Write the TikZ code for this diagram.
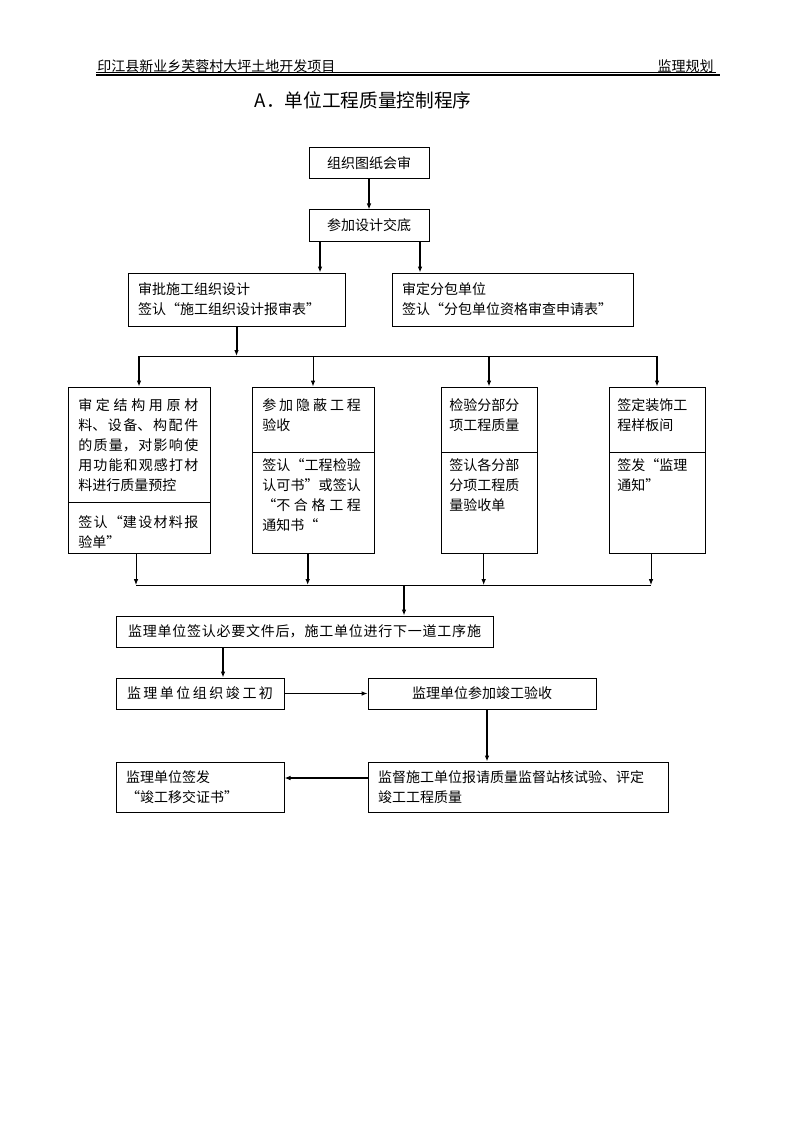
\documentclass[tikz,border=0pt]{standalone}
\usepackage{fontspec}
\setmainfont{Noto Sans CJK SC}
\newfontfamily\boxfont{Noto Sans CJK SC}[RawFeature=+fwid]
\XeTeXlinebreaklocale "zh"
\XeTeXlinebreakskip=0pt plus 5pt
\tolerance=10000
\usetikzlibrary{arrows.meta}

\tikzset{
  head/.style={inner sep=0pt, font=\fontsize{10.5}{12}\selectfont},
  box/.style={draw, line width=0.75pt, inner sep=0pt, font=\boxfont\fontsize{10.5}{15}\selectfont},
  txt/.style={inner sep=0pt, anchor=north west, font=\boxfont\fontsize{10.5}{15}\selectfont},
  link/.style={line width=0.75pt, -{Latex[length=4.5pt,width=3.5pt]}},
  boldlink/.style={line width=1.5pt, -{Latex[length=4.5pt,width=3.5pt]}},
  bus/.style={line width=0.75pt}
}

\begin{document}
\begin{tikzpicture}[x=0.75pt, y=-0.75pt]
    \useasboundingbox (0,0) rectangle (794,1123);

    % page header
    \node[head, anchor=west] (project) at (97,66) {印江县新业乡芙蓉村大坪土地开发项目};
    \node[head, anchor=east] (plan) at (714,66) {监理规划};
    \draw[line width=0.6pt] (96,72.5) -- (716,72.5);
    \draw[line width=1.5pt] (96,75.5) -- (720,75.5);
    \node[inner sep=0pt, font=\fontsize{14}{16}\selectfont] (title) at (363,100) {A．单位工程质量控制程序};

    % preparation stage
    \node[box, minimum width=90pt, minimum height=23.25pt] (meet) at (369,163.5) {组织图纸会审};
    \node[box, minimum width=90pt, minimum height=23.25pt] (brief) at (369,225.5) {参加设计交底};
    \node[box, align=left, text width=147.75pt, inner xsep=7.5pt, minimum height=39.75pt] (orgdesign) at (236.5,299.5) {审批施工组织设计\\签认“施工组织设计报审表”};
    \node[box, align=left, text width=165.75pt, inner xsep=7.5pt, minimum height=39.75pt] (subcon) at (512.5,299.5) {审定分包单位\\签认“分包单位资格审查申请表”};

    % the four checks
    \node[box, minimum width=106.5pt, minimum height=86.25pt] (mat) at (139,444.5) {};
    \node[box, minimum width=106.5pt, minimum height=38.25pt] (matsign) at (139,527.5) {};
    \node[box, minimum width=91.5pt, minimum height=48.75pt] (hidden) at (313,419.5) {};
    \node[box, minimum width=91.5pt, minimum height=75.75pt] (hiddensign) at (313,502.5) {};
    \node[box, minimum width=72pt, minimum height=48.75pt] (part) at (489,419.5) {};
    \node[box, minimum width=72pt, minimum height=75.75pt] (partsign) at (489,502.5) {};
    \node[box, minimum width=72pt, minimum height=48.75pt] (deco) at (657,419.5) {};
    \node[box, minimum width=72pt, minimum height=75.75pt] (decosign) at (657,502.5) {};

    \node[txt, text width=90pt, align=justify] (mattext) at (78,398) {审定结构用原材\linebreak 料、设备、构配件\linebreak 的质量，对影响使\linebreak 用功能和观感打材\linebreak 料进行质量预控};
    \node[txt, text width=90pt, align=justify] (matsigntext) at (78,515) {签认“建设材料报\linebreak 验单”};
    \node[txt, text width=74pt, align=justify] (hiddentext) at (262,398) {参加隐蔽工程\linebreak 验收};
    \node[txt, text width=74pt, align=justify] (hiddensigntext) at (262,458) {签认“工程检验\linebreak 认可书”或签认\linebreak “不合格工程\linebreak 通知书“};
    \node[txt, text width=53pt, align=left] (parttext) at (449,398) {检验分部分\\项工程质量};
    \node[txt, text width=53pt, align=left] (partsigntext) at (449,458) {签认各分部\\分项工程质\\量验收单};
    \node[txt, text width=53pt, align=left] (decotext) at (617,398) {签定装饰工\\程样板间};
    \node[txt, text width=53pt, align=left] (decosigntext) at (617,458) {签发“监理\\通知”};

    % completion stage
    \node[box, align=justify, text width=264.75pt, inner xsep=9pt, minimum height=23.25pt] (next) at (304.5,631.5) {\parfillskip=0pt 监理单位签认必要文件后，施工单位进行下一道工序施\par};
    \node[box, align=justify, text width=109.5pt, inner xsep=8.25pt, minimum height=23.25pt] (precheck) at (200,693.5) {\parfillskip=0pt 监理单位组织竣工初\par};
    \node[box, minimum width=171pt, minimum height=23.25pt] (accept) at (482,693.5) {监理单位参加竣工验收};
    \node[box, align=left, text width=210pt, inner xsep=7.5pt, minimum height=37.5pt] (evaluate) at (518,787) {监督施工单位报请质量监督站核试验、评定\\竣工工程质量};
    \node[box, align=left, text width=111pt, inner xsep=7.5pt, minimum height=37.5pt] (handover) at (200,787) {监理单位签发\\“竣工移交证书”};

    % connectors
    \coordinate (lt) at (320,0);
    \coordinate (rt) at (420,0);
    \coordinate (topbus) at (0,356);
    \coordinate (botbus) at (0,585);
    \coordinate (midbus) at (404,585);
    \coordinate (downf) at (223,0);
    \coordinate (downh) at (487,0);
    \coordinate (lefti) at (0,778);

    \draw[boldlink] (meet) -- (brief);
    \draw[boldlink] (brief.south -| lt) -- (orgdesign.north -| lt);
    \draw[boldlink] (brief.south -| rt) -- (subcon.north -| rt);
    \draw[boldlink] (orgdesign.south) -- (orgdesign.south |- topbus);
    \draw[bus] (mat.north |- topbus) -- (deco.north |- topbus);
    \draw[boldlink] (mat.north |- topbus) -- (mat.north);
    \draw[link] (hidden.north |- topbus) -- (hidden.north);
    \draw[boldlink] (part.north |- topbus) -- (part.north);
    \draw[boldlink] (deco.north |- topbus) -- (deco.north);

    \draw[link] ([xshift=-2.25pt]matsign.south) -- ([xshift=-2.25pt]matsign.south |- botbus);
    \draw[boldlink] ([xshift=-4pt]hiddensign.south) -- ([xshift=-4pt]hiddensign.south |- botbus);
    \draw[link] ([xshift=-4pt]partsign.south) -- ([xshift=-4pt]partsign.south |- botbus);
    \draw[link] ([xshift=-4.5pt]decosign.south) -- ([xshift=-4.5pt]decosign.south |- botbus);
    \draw[bus] ([xshift=-2.25pt]matsign.south |- botbus) -- ([xshift=-4.5pt]decosign.south |- botbus);
    \draw[boldlink] (midbus) -- (midbus |- next.north);

    \draw[boldlink] (next.south -| downf) -- (precheck.north -| downf);
    \draw[link] (precheck) -- (accept);
    \draw[boldlink] (accept.south -| downh) -- (evaluate.north -| downh);
    \draw[boldlink] (evaluate.west |- lefti) -- (handover.east |- lefti);
\end{tikzpicture}
\end{document}
